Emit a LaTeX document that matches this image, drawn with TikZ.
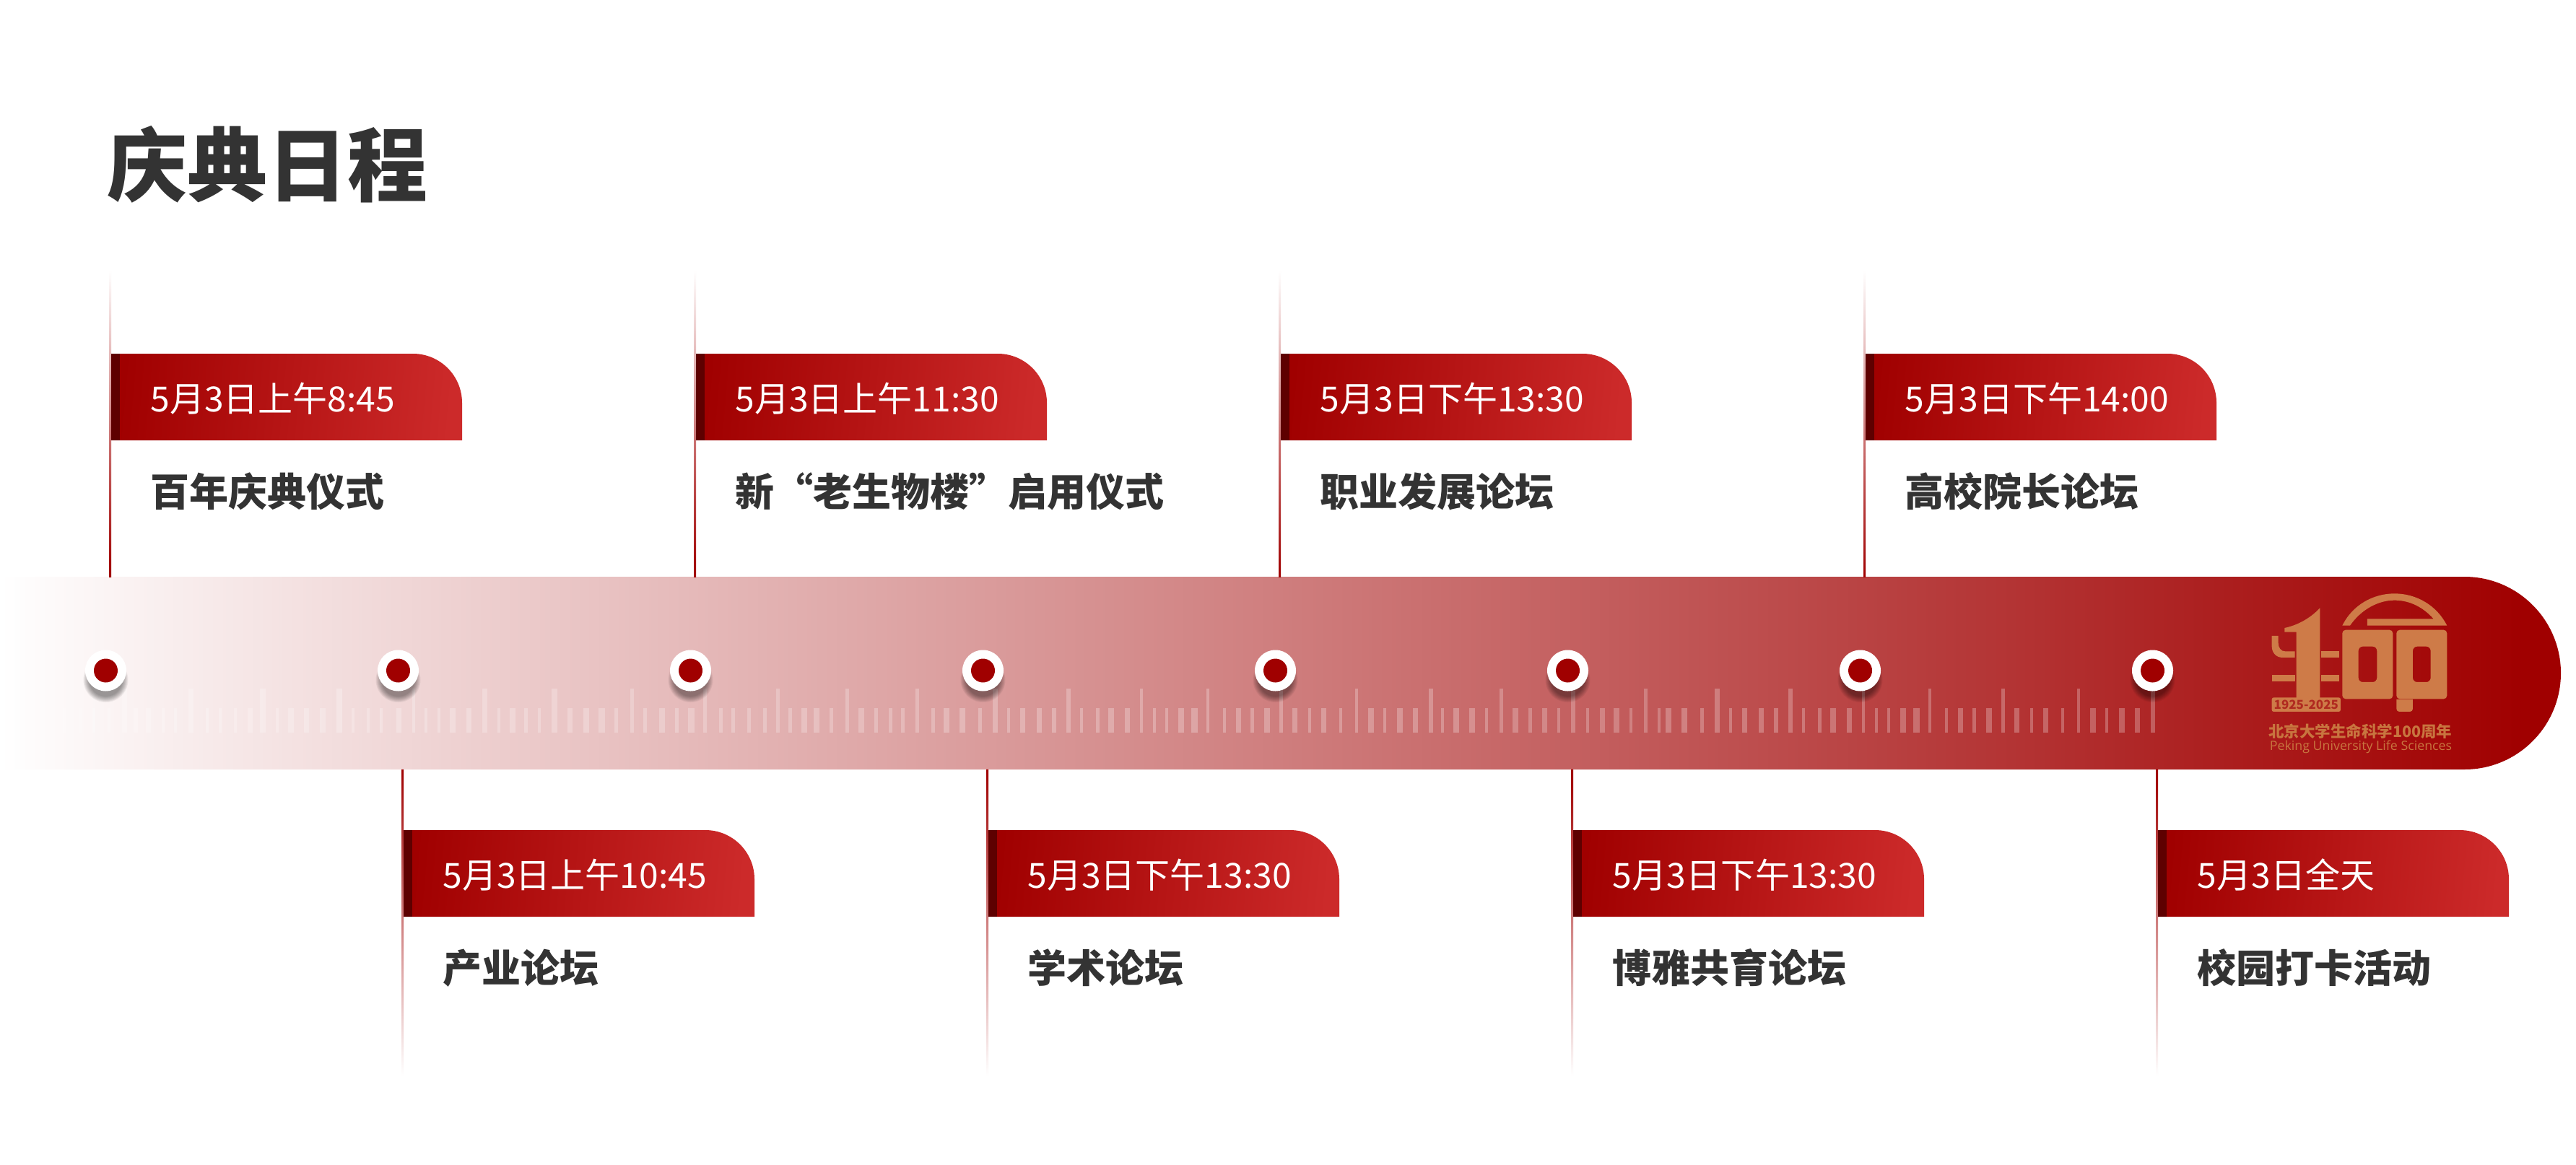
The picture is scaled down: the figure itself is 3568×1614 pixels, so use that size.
\documentclass[tikz,border=0pt]{standalone}
\usepackage{fontspec}
\newfontfamily\cjk{Noto Sans CJK SC}
\newfontfamily\logolatin{Open Sans}
\definecolor{bandred}{HTML}{A00000}
\definecolor{flagend}{HTML}{CC2A2A}
\definecolor{flagdark}{HTML}{5E0000}
\definecolor{ink}{HTML}{333333}
\definecolor{gold}{HTML}{CE7B48}
\definecolor{goldtext}{HTML}{C8753F}
\definecolor{yearred}{HTML}{B02A20}
\pgfdeclarehorizontalshading{bandshade}{100bp}{color(0bp)=(white); color(25bp)=(white); color(74.3bp)=(bandred); color(100bp)=(bandred)}
\tikzset{
  titletext/.style={anchor=base west,inner sep=0pt,text=ink,font=\cjk\bfseries\fontsize{111}{120}\selectfont},
  datetext/.style={anchor=base west,inner sep=0pt,text=white,font=\cjk\fontsize{48}{58}\selectfont},
  labeltext/.style={anchor=base west,inner sep=0pt,text=ink,font=\cjk\bfseries\fontsize{54}{64}\selectfont},
  ticklight/.style={fill=white,fill opacity=.24},
  tickbar/.style={fill=white,fill opacity=.26},
  flagbody/.style={left color=bandred,right color=flagend,shading angle=85},
  logopart/.style={fill=gold},
}
% #1 id, #2 flag left x, #3 flag top y, #4 date, #5 label
\newcommand\flagitem[5]{%
  \shade[flagbody] (#2,#3+120) -- (#2,#3) -- ({#2+418},#3) .. controls ({#2+455.5},#3) and ({#2+486},{#3+30.5}) .. ({#2+486},{#3+68}) -- ({#2+486},{#3+120}) -- cycle;
  \fill[flagdark] (#2,#3) rectangle ({#2+12},{#3+120});
  \node[datetext] (date#1) at ({#2+54.5},{#3+80}) {#4};
  \node[labeltext] (label#1) at ({#2+54},{#3+211}) {#5};
}
\begin{document}
\begin{tikzpicture}[x=1pt,y=-1pt]
\useasboundingbox (0,0) rectangle (3568,1614);
\fill[white] (0,0) rectangle (3568,1614);
\node[titletext] (title) at (148,270) {庆典日程};
% band
\shade[shading=bandshade] (0,799) -- (3413.5,799) .. controls (3487,799) and (3547,858.8) .. (3547,932.5) .. controls (3547,1006.2) and (3487,1066) .. (3413.5,1066) -- (0,1066) -- cycle;
% connectors
\foreach \i/\x in {1/154,2/964,3/1774,4/2584}{
  \coordinate (up\i) at (\x-3,375);
  \coordinate (ub\i) at (\x,799);
  \shade[top color=white,bottom color=bandred] (up\i) rectangle (ub\i);
}
\foreach \i/\x in {5/559,6/1369,7/2179,8/2989}{
  \coordinate (dt\i) at (\x-3,1066);
  \coordinate (db\i) at (\x,1490);
  \shade[top color=bandred,bottom color=white] (dt\i) rectangle (db\i);
}
\flagitem{1}{154}{490}{5月3日上午8:45}{百年庆典仪式}
\flagitem{2}{964}{490}{5月3日上午11:30}{新“老生物楼”启用仪式}
\flagitem{3}{1774}{490}{5月3日下午13:30}{职业发展论坛}
\flagitem{4}{2584}{490}{5月3日下午14:00}{高校院长论坛}
\flagitem{5}{559}{1150}{5月3日上午10:45}{产业论坛}
\flagitem{6}{1369}{1150}{5月3日下午13:30}{学术论坛}
\flagitem{7}{2179}{1150}{5月3日下午13:30}{博雅共育论坛}
\flagitem{8}{2989}{1150}{5月3日全天}{校园打卡活动}
% ticks: absolute lists
\foreach \p/\w in {89/4,111/4,130/4,151/4,188/6,205/7,226/4,243/4,287/4,305/4,326/4,346/7,384/4,403/8,424/7,447/8,489/4,510/4,528/4,552/7,590/4,608/4,627/8,649/7,691/4,710/8,728/5,747/4,789/7,812/8,833/9,853/5,893/5,917/8,937/5,957/9,998/5,1015/5,1037/5,1059/5,1094/5,1114/8,1131/8,1151/5,1193/8,1213/5,1233/5,1250/5,1292/5,2099/8,2119/5,2139/7,2159/4,2199/4,2219/7,2239/8,2259/4,2298/4}
  {\fill[ticklight] ({\p-\w/2},981) rectangle ({\p+\w/2},1015);}
\foreach \p/\w in {172/7,264/7,364/8,470/8,573/4,671/7,768/8,875/5,976/5,1077/5,1173/5,1270/5,2079/5,2179/6,2279/5}
  {\fill[ticklight] ({\p-\w/2},954) rectangle ({\p+\w/2},1015);}
\foreach \o in {1300,2300}{
  \foreach \p/\w in {11/8,33/8,57/5,97/4,116/7,139/7,160/6,198/4,220/5,239/8,261/7,299/4,316/4,336/8,354/9,396/4,415/7,434/5,455/8,493/7,514/4,533/7,557/4,599/8,618/4,639/8,660/7}
    {\fill[tickbar] ({\o+\p-\w/2},981) rectangle ({\o+\p+\w/2},1015);}
  \foreach \p/\w in {78/7,180/6,281/4,373/4,474/5,579/4,682/6}
    {\fill[tickbar] ({\o+\p-\w/2},954) rectangle ({\o+\p+\w/2},1015);}
}
\foreach \p/\w in {1998/4,2017/8,2039/8,2059/4}
  {\fill[tickbar] ({\p-\w/2},981) rectangle ({\p+\w/2},1015);}
% dots
\foreach \i/\x in {1/146.5,2/551.5,3/956.5,4/1361.5,5/1766.5,6/2171.5,7/2576.5,8/2981.5}{
  \foreach \r in {31,30,29,28,27,26,25,24,23}
    \fill[black,fill opacity=.05] (\x,942) circle[radius=\r];
  \node[circle,fill=white,inner sep=0pt,minimum size=57pt] (dot\i) at (\x,929) {};
  \node[circle,fill=bandred,inner sep=0pt,minimum size=33pt] (core\i) at (dot\i) {};
}
% logo
\begin{scope}[x=.33333pt,y=-.33333pt,shift={(9390,2445)}]
  \fill[logopart] (343,155) .. controls (385,70) and (470,22) .. (560,22) .. controls (650,22) and (735,70) .. (778,155) -- (447,155) -- (447,127) -- (722,127) .. controls (680,80) and (625,50) .. (560,50) .. controls (490,50) and (420,90) .. (375,155) -- cycle;
  \fill[logopart,even odd rule] [rounded corners=14*.33333pt] (343,173) rectangle (553,460) [rounded corners=18*.33333pt] (410,242) rectangle (487,390);
  \fill[logopart,even odd rule] [rounded corners=14*.33333pt] (568,173) rectangle (778,460) [rounded corners=18*.33333pt] (636,242) rectangle (710,390);
  \fill[logopart,rounded corners=12*.33333pt] (568,462) [sharp corners] -- (568,470) [rounded corners=12*.33333pt] -- (568,513) -- (636,513) [sharp corners] -- (636,462) -- cycle;
  \fill[logopart] (250,82) -- (250,456) -- (152,456) -- (152,182) -- (103,182) -- (103,165) .. controls (150,155) and (205,130) .. (250,82) -- cycle;
  \fill[logopart] (50,198) -- (77,198) -- (77,225) .. controls (77,248) and (88,262) .. (105,262) -- (146,262) -- (146,288) -- (95,288) .. controls (68,288) and (50,268) .. (50,240) -- cycle;
  \fill[logopart] (256,262) rectangle (330,288);
  \fill[logopart] (52,360) rectangle (146,386);
  \fill[logopart] (256,360) rectangle (330,386);
  \fill[logopart,rounded corners=8*.33333pt] (50,454) rectangle (336,513);
  \node[inner sep=0pt,text=yearred,font=\cjk\bfseries\fontsize{17}{20}\selectfont] (years) at (193,484) {1925-2025};
  \node[inner sep=0pt,text=goldtext,font=\cjk\bfseries\fontsize{21.5}{25}\selectfont] (logocn) at (418,595) {北京大学生命科学100周年};
  \node[inner sep=0pt,text=goldtext,font=\logolatin\fontsize{17.8}{22}\selectfont] (logoen) at (420,660) {Peking University Life Sciences};
\end{scope}
\end{tikzpicture}
\end{document}
